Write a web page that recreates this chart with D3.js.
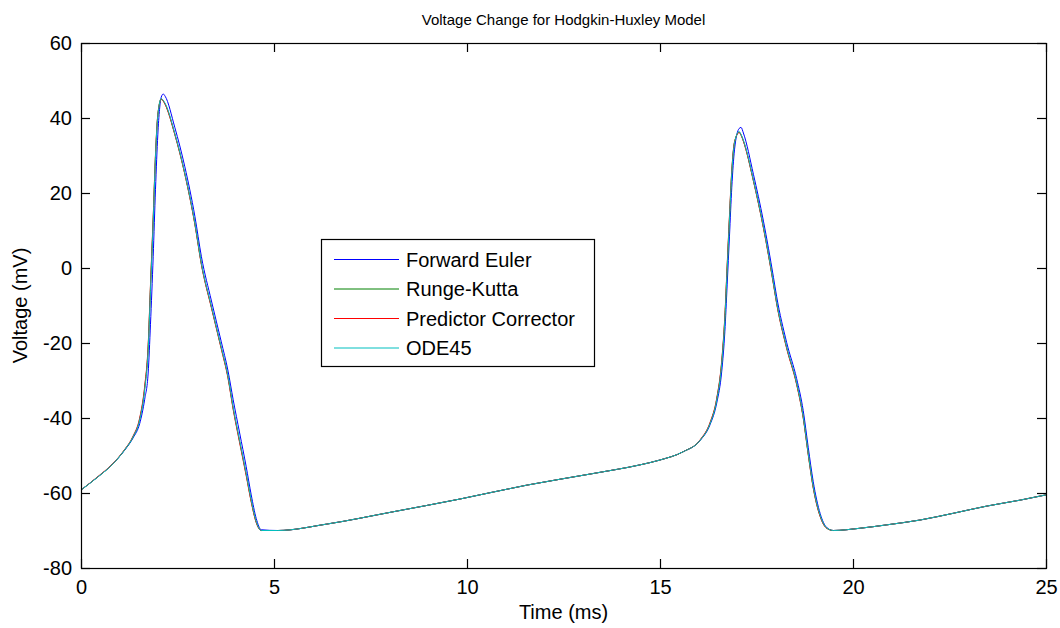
<!DOCTYPE html>
<html>
<head>
<meta charset="utf-8">
<script src="https://cdn.jsdelivr.net/npm/d3@7/dist/d3.min.js"></script>
<style>
  body { margin: 0; background: #fff; }
  text { font-family: "Liberation Sans", Arial, sans-serif; fill: #000; }
</style>
</head>
<body>
<div id="chart"></div>
<script>
// time points (ms)
var timeMs = [0, 0.45, 0.8, 1.13, 1.35, 1.52, 1.65, 1.74, 1.8, 1.87, 1.93, 1.99, 2.08, 2.13, 2.18,
  2.43, 2.69, 2.95, 3.12, 3.38, 3.63, 3.81, 3.94, 4.11, 4.28, 4.41, 4.54, 4.67, 5.1,
  6.36, 8.09, 9.82, 11.55, 13.27, 14.48, 15.0, 15.6, 16.04, 16.3, 16.47, 16.6, 16.68, 16.74,
  16.8, 16.86, 16.93, 17.05, 17.1, 17.16, 17.42, 17.68, 17.94, 18.02, 18.28, 18.54, 18.71,
  18.84, 18.97, 19.15, 19.32, 19.49, 20.18, 20.87, 21.74, 22.6, 23.46, 24.33, 25];

// voltage (mV) per method
var forwardEuler = [-59.2, -55.6, -52.5, -48.6, -45.3, -41.5, -35, -28, -15, 3, 21, 35.5, 45.6, 46.4, 45.8,
  37.5, 27, 13.8, 3, -8.8, -19.5, -27.5, -35, -44, -53, -60.5, -66.8, -69.8, -70,
  -68.3, -65, -61.6, -57.9, -54.8, -52.5, -51.2, -49, -46, -41.7, -36, -27.5, -17, -4.5,
  8.5, 21.5, 31.5, 37.2, 37.5, 36, 25, 12.5, -2.5, -7.5, -19.8, -29.5, -38,
  -47.8, -57, -65.5, -69.2, -70, -69.4, -68.5, -67.2, -65.4, -63.5, -61.9, -60.5];

var rungeKutta = [-59.2, -55.6, -52.5, -48.5, -45, -40.3, -32, -21, -5, 13, 30, 40.8, 45.1, 44.6, 43.7,
  35.7, 25.1, 11.8, 1, -10.5, -21.2, -29.2, -37.3, -46.3, -55.1, -62.2, -67.8, -70, -70,
  -68.3, -65, -61.6, -57.9, -54.8, -52.5, -51.2, -49, -45.9, -41.3, -35, -25, -13.3, 0.3,
  13.5, 25.8, 33.5, 36.2, 35.5, 33.9, 23.3, 10.8, -4.2, -9.2, -21.2, -30.9, -39.8,
  -49.6, -58.5, -66.2, -69.4, -70, -69.4, -68.5, -67.2, -65.4, -63.5, -61.9, -60.5];

var predictorCorrector = [-59.2, -55.5, -52.4, -48.4, -44.8, -40, -31.5, -20.5, -4.5, 13.5, 30.3, 40.9, 45, 44.5, 43.6,
  35.6, 25, 11.6, 0.8, -10.7, -21.4, -29.5, -37.6, -46.6, -55.4, -62.4, -67.9, -70, -70,
  -68.3, -65, -61.6, -57.9, -54.8, -52.5, -51.2, -49, -45.8, -41.1, -34.7, -24.6, -12.8, 0.8,
  14, 26.1, 33.6, 36.1, 35.4, 33.8, 23.2, 10.6, -4.4, -9.4, -21.4, -31.1, -40,
  -49.8, -58.7, -66.3, -69.4, -70, -69.4, -68.5, -67.2, -65.4, -63.5, -61.9, -60.5];

var ode45 = [-59.2, -55.6, -52.5, -48.5, -45, -40.5, -32.5, -21.9, -6, 12, 29.5, 40.5, 45.2, 44.7, 43.9,
  35.9, 25.3, 12, 1.2, -10.3, -21, -29, -37, -46, -54.8, -61.9, -67.6, -70, -70,
  -68.3, -65, -61.6, -57.9, -54.8, -52.5, -51.2, -49, -45.9, -41.4, -35.2, -25.4, -13.9, -0.5,
  12.8, 25.3, 33.3, 36.4, 35.6, 34.1, 23.5, 11, -4, -9, -21, -30.7, -39.6,
  -49.4, -58.3, -66, -69.3, -70, -69.4, -68.5, -67.2, -65.4, -63.5, -61.9, -60.5];

var seriesNames = ["Forward Euler", "Runge-Kutta", "Predictor Corrector", "ODE45"];
var seriesColors = ["#0000ff", "#008000", "#ff0000", "#00bfbf"];
var seriesValues = [forwardEuler, rungeKutta, predictorCorrector, ode45];

var xTicks = [0, 5, 10, 15, 20, 25];
var yTicks = [-80, -60, -40, -20, 0, 20, 40, 60];

function drawChart() {
    var width = 1060, height = 628;
    var plotLeft = 81, plotRight = 1046, plotTop = 43, plotBottom = 568;
    var tickLen = 9;

    var svg = d3.select("#chart").append("svg")
        .attr("width", width)
        .attr("height", height)
        .style("background", "#fff");

    var x = d3.scaleLinear().domain([0, 25]).range([plotLeft, plotRight]);
    var y = d3.scaleLinear().domain([-80, 60]).range([plotBottom, plotTop]);

    // lines first, frame on top
    var line = d3.line()
        .x(function(d) { return x(d[0]); })
        .y(function(d) { return y(d[1]); })
        .curve(d3.curveMonotoneX);

    seriesValues.forEach(function(vals, i) {
        var pts = timeMs.map(function(t, j) { return [t, vals[j]]; });
        svg.append("path")
            .datum(pts)
            .attr("d", line)
            .attr("fill", "none")
            .attr("stroke", seriesColors[i])
            .attr("stroke-width", 1);
    });

    // box
    svg.append("rect")
        .attr("x", plotLeft + 0.5).attr("y", plotTop + 0.5)
        .attr("width", plotRight - plotLeft).attr("height", plotBottom - plotTop)
        .attr("fill", "none")
        .attr("stroke", "#000")
        .attr("stroke-width", 1.2);

    // axes with inward ticks on all four sides, plain hyphen minus like matlab
    var fmt = function(d) { return String(d); };

    function styleAxis(g) {
        g.select(".domain").remove();
        g.selectAll(".tick line").attr("stroke", "#000").attr("stroke-width", 1.2);
        g.selectAll(".tick text")
            .attr("fill", "#000")
            .style("font-size", "20px")
            .style("font-family", "'Liberation Sans', Arial, sans-serif");
    }

    svg.append("g")
        .attr("transform", "translate(0," + plotBottom + ")")
        .call(d3.axisBottom(x).tickValues(xTicks).tickSizeInner(-tickLen).tickSizeOuter(0)
            .tickPadding(12).tickFormat(fmt))
        .call(styleAxis);

    svg.append("g")
        .attr("transform", "translate(0," + plotTop + ")")
        .call(d3.axisTop(x).tickValues(xTicks).tickSizeInner(-tickLen).tickSizeOuter(0)
            .tickFormat(function() { return ""; }))
        .call(styleAxis);

    svg.append("g")
        .attr("transform", "translate(" + plotLeft + ",0)")
        .call(d3.axisLeft(y).tickValues(yTicks).tickSizeInner(-tickLen).tickSizeOuter(0)
            .tickPadding(9).tickFormat(fmt))
        .call(styleAxis);

    svg.append("g")
        .attr("transform", "translate(" + plotRight + ",0)")
        .call(d3.axisRight(y).tickValues(yTicks).tickSizeInner(-tickLen).tickSizeOuter(0)
            .tickFormat(function() { return ""; }))
        .call(styleAxis);

    // title and axis labels
    svg.append("text")
        .attr("x", (plotLeft + plotRight) / 2).attr("y", 25)
        .attr("text-anchor", "middle")
        .style("font-size", "15px")
        .text("Voltage Change for Hodgkin-Huxley Model");

    svg.append("text")
        .attr("x", (plotLeft + plotRight) / 2).attr("y", 619)
        .attr("text-anchor", "middle")
        .style("font-size", "20px")
        .text("Time (ms)");

    svg.append("text")
        .attr("transform", "translate(27," + ((plotTop + plotBottom) / 2) + ") rotate(-90)")
        .attr("text-anchor", "middle")
        .style("font-size", "20px")
        .text("Voltage (mV)");

    // legend
    var legend = svg.append("g");
    legend.append("rect")
        .attr("x", 321.5).attr("y", 239.5)
        .attr("width", 273).attr("height", 127)
        .attr("fill", "#fff")
        .attr("stroke", "#000")
        .attr("stroke-width", 1.2);

    seriesNames.forEach(function(name, i) {
        var cy = 259.5 + i * 29.5;
        legend.append("line")
            .attr("x1", 334).attr("x2", 399)
            .attr("y1", cy).attr("y2", cy)
            .attr("stroke", seriesColors[i])
            .attr("stroke-width", 1);
        legend.append("text")
            .attr("x", 406).attr("y", cy + 7)
            .style("font-size", "20px")
            .text(name);
    });
}

drawChart();
</script>
</body>
</html>
